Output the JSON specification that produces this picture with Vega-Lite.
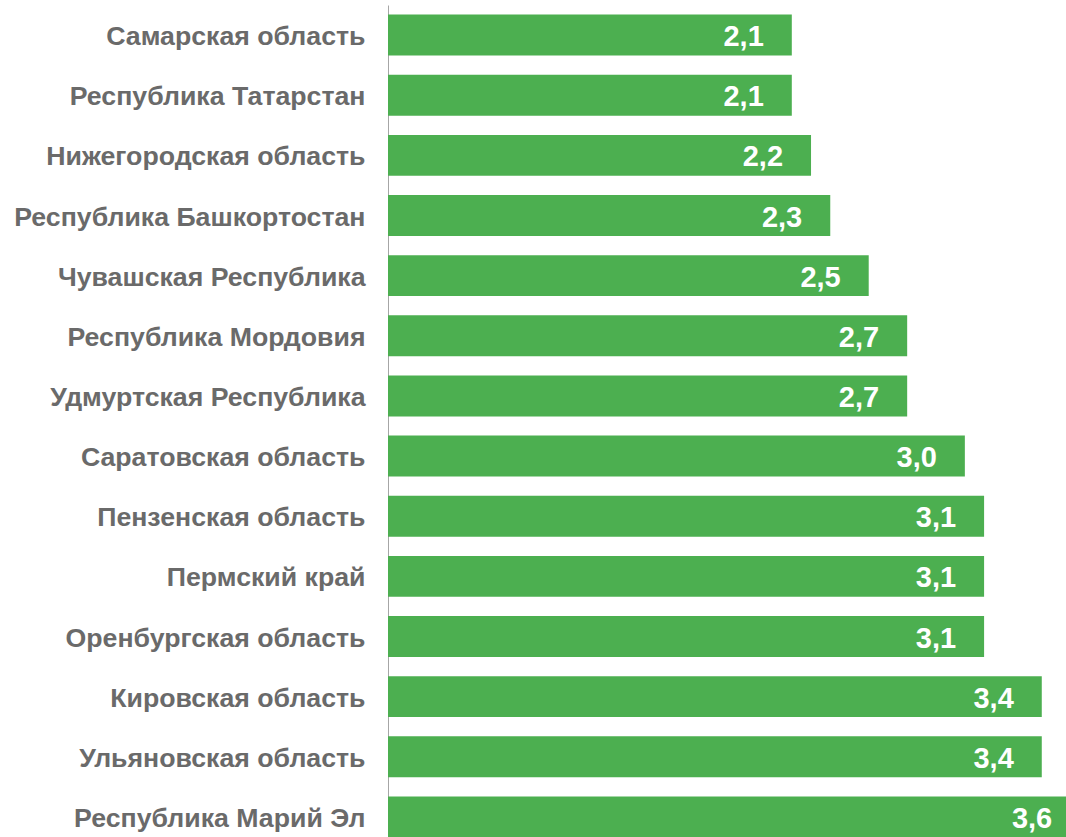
{
  "$schema": "https://vega.github.io/schema/vega-lite/v6.json",
  "autosize": "none",
  "padding": {"left": 388, "top": 5, "right": 0, "bottom": 0},
  "width": 678,
  "height": 842,
  "background": "white",
  "config": {
    "view": {"stroke": null},
    "locale": {"number": {"decimal": ",", "thousands": " ", "grouping": [3], "currency": ["", ""]}}
  },
  "data": {
    "values": [
      {"region": "Самарская область", "value": 2.1},
      {"region": "Республика Татарстан", "value": 2.1},
      {"region": "Нижегородская область", "value": 2.2},
      {"region": "Республика Башкортостан", "value": 2.3},
      {"region": "Чувашская Республика", "value": 2.5},
      {"region": "Республика Мордовия", "value": 2.7},
      {"region": "Удмуртская Республика", "value": 2.7},
      {"region": "Саратовская область", "value": 3.0},
      {"region": "Пензенская область", "value": 3.1},
      {"region": "Пермский край", "value": 3.1},
      {"region": "Оренбургская область", "value": 3.1},
      {"region": "Кировская область", "value": 3.4},
      {"region": "Ульяновская область", "value": 3.4},
      {"region": "Республика Марий Эл", "value": 3.6}
    ]
  },
  "encoding": {
    "y": {
      "field": "region",
      "type": "nominal",
      "sort": null,
      "scale": {"paddingInner": 0.32, "paddingOuter": 0.16},
      "axis": {
        "title": null,
        "ticks": false,
        "labelPadding": 23,
        "labelOffset": 2,
        "labelFont": "Liberation Sans",
        "labelFontWeight": "bold",
        "labelFontSize": 26.7,
        "labelColor": "#6a6a6a",
        "labelLimit": 400,
        "domainColor": "#a6a6a6",
        "domainWidth": 1
      }
    },
    "x": {
      "field": "value",
      "type": "quantitative",
      "scale": {"domain": [0, 3.526], "nice": false, "zero": true},
      "axis": null
    }
  },
  "layer": [
    {"mark": {"type": "bar", "color": "#4caf50", "clip": true}},
    {
      "mark": {
        "type": "text",
        "align": "right",
        "baseline": "middle",
        "dx": -28,
        "dy": 2,
        "font": "Liberation Sans",
        "fontWeight": "bold",
        "fontSize": 29,
        "color": "white"
      },
      "encoding": {"text": {"field": "value", "type": "quantitative", "format": ".1f"}}
    }
  ]
}
